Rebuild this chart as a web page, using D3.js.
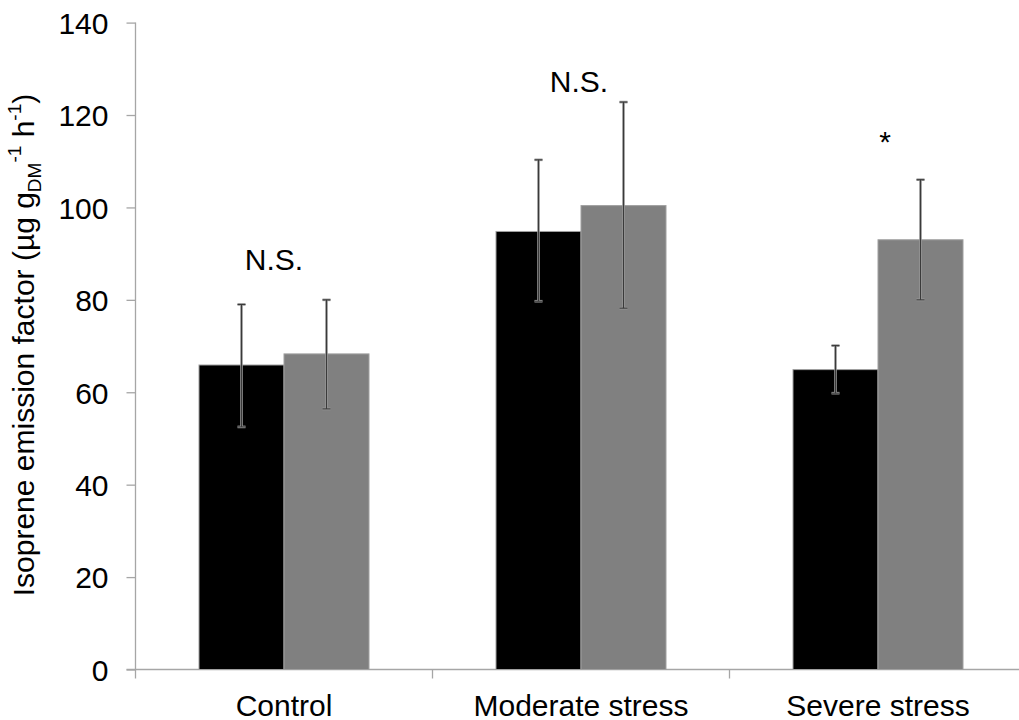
<!DOCTYPE html>
<html>
<head>
<meta charset="utf-8">
<script src="https://cdn.jsdelivr.net/npm/d3@7"></script>
<style>
  body { margin: 0; background: #fff; }
  text { font-family: "Liberation Sans", Arial, sans-serif; fill: #000; }
</style>
</head>
<body>
<script>
// data
const categories = ["Control", "Moderate stress", "Severe stress"];
const series = ["A", "B"];
const meanA = [65.9, 94.8, 64.9];
const meanB = [68.3, 100.4, 93.0];
const lowA = [52.5, 79.7, 59.8];
const highA = [79.0, 110.3, 70.1];
const lowB = [56.4, 78.2, 80.0];
const highB = [80.0, 122.8, 106.0];
const yTicks = [0, 20, 40, 60, 80, 100, 120, 140];
const noteText = ["N.S.", "N.S.", "*"];
const noteY = [86.4, 125.0, 112.0];
const noteDx = [-10, -2, 7];

const width = 1019, height = 720;
const margin = {top: 22.6, left: 135.5, bottom: 50.5};
const groupW = 297, pairW = 170;
const fontSize = 30;
const colors = {A: "#000000", B: "#808080"};

const svg = d3.select("body").append("svg")
  .attr("width", width)
  .attr("height", height);

const x0 = d3.scaleBand()
  .domain(categories)
  .range([margin.left, margin.left + groupW * categories.length]);

const x1 = d3.scaleBand()
  .domain(series)
  .range([(groupW - pairW) / 2, (groupW + pairW) / 2]);

const y = d3.scaleLinear()
  .domain([0, 140])
  .range([height - margin.bottom, margin.top]);

const rows = categories.map((c, i) => ({
  cat: c,
  bars: [
    {s: "A", v: meanA[i], lo: lowA[i], hi: highA[i]},
    {s: "B", v: meanB[i], lo: lowB[i], hi: highB[i]}
  ]
}));

// y axis
const yAxis = svg.append("g")
  .attr("transform", "translate(" + margin.left + ",0)")
  .call(d3.axisLeft(y).tickValues(yTicks).tickSize(9).tickPadding(18));
yAxis.selectAll("text").style("font-size", fontSize + "px").attr("dy", "0.36em");

// x axis with ticks between categories
const xAxis = svg.append("g")
  .attr("transform", "translate(0," + y(0) + ")");
xAxis.append("line")
  .attr("x1", margin.left - 9).attr("x2", width + 10)
  .attr("stroke", "#a6a6a6").attr("stroke-width", 1.3);
const seps = categories.map(c => x0(c)).concat([x0(categories[categories.length - 1]) + groupW]);
xAxis.selectAll(".sep").data(seps).enter().append("line")
  .attr("x1", d => d).attr("x2", d => d)
  .attr("y1", 0).attr("y2", 9)
  .attr("stroke", "#a6a6a6").attr("stroke-width", 1.3);
xAxis.selectAll(".lab").data(categories).enter().append("text")
  .attr("x", d => x0(d) + groupW / 2)
  .attr("y", 46)
  .attr("text-anchor", "middle")
  .style("font-size", fontSize + "px")
  .text(d => d);

yAxis.selectAll("path, line").attr("stroke", "#a6a6a6").attr("stroke-width", 1.3);
yAxis.select(".domain").attr("d", "M0," + y(140) + "V" + y(0));

// bars
const groups = svg.selectAll(".grp").data(rows).enter().append("g")
  .attr("transform", d => "translate(" + x0(d.cat) + ",0)");

groups.selectAll("rect").data(d => d.bars).enter().append("rect")
  .attr("x", d => x1(d.s))
  .attr("width", x1.bandwidth())
  .attr("y", d => y(d.v))
  .attr("height", d => y(0) - y(d.v))
  .attr("fill", d => colors[d.s])
  .attr("stroke", "#a0a0a0")
  .attr("stroke-width", 1);

// error bars
const err = groups.selectAll(".err").data(d => d.bars).enter().append("g")
  .attr("transform", d => "translate(" + (x1(d.s) + x1.bandwidth() / 2) + ",0)");
[["#9a9a9a", 2.6], ["#3a3a3a", 1.1]].forEach(([col, w]) => {
  err.append("line")
    .attr("y1", d => y(d.lo)).attr("y2", d => y(d.hi))
    .attr("stroke", col).attr("stroke-width", w);
  err.append("line")
    .attr("x1", -4).attr("x2", 4)
    .attr("y1", d => y(d.hi)).attr("y2", d => y(d.hi))
    .attr("stroke", col).attr("stroke-width", w);
  err.append("line")
    .attr("x1", -4).attr("x2", 4)
    .attr("y1", d => y(d.lo)).attr("y2", d => y(d.lo))
    .attr("stroke", col).attr("stroke-width", w);
});

// significance notes
svg.selectAll(".note").data(categories).enter().append("text")
  .attr("x", (d, i) => x0(d) + groupW / 2 + noteDx[i])
  .attr("y", (d, i) => y(noteY[i]))
  .attr("text-anchor", "middle")
  .style("font-size", fontSize + "px")
  .text((d, i) => noteText[i]);

// y axis title
const title = svg.append("text")
  .attr("transform", "translate(34," + 345 + ") rotate(-90)")
  .attr("text-anchor", "middle")
  .style("font-size", fontSize + "px");
title.append("tspan").text("Isoprene emission factor (µg g");
title.append("tspan").attr("dy", 7).style("font-size", "19px").text("DM");
title.append("tspan").attr("dy", -20).style("font-size", "19px").text("-1");
title.append("tspan").attr("dy", 13).text(" h");
title.append("tspan").attr("dy", -13).style("font-size", "19px").text("-1");
title.append("tspan").attr("dy", 13).text(")");
</script>
</body>
</html>
